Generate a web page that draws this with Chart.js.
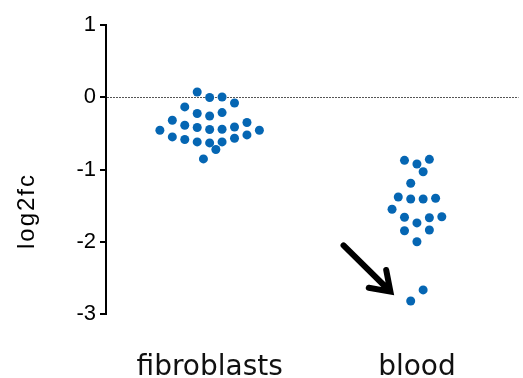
<!DOCTYPE html>
<html>
<head>
<meta charset="utf-8">
<script src="https://cdn.jsdelivr.net/npm/chart.js@4"></script>
<style>
  html, body { margin: 0; padding: 0; background: #ffffff; }
  #wrap { width: 523px; height: 378px; }
</style>
</head>
<body>
<div id="wrap"><canvas id="c" width="523" height="378"></canvas></div>
<script>
// ---- data ----
const categories = ['fibroblasts', 'blood'];
const yTicks = [1, 0, -1, -2, -3];
const yAxisTitle = 'log2fc';

// swarm offsets (x-scale units from the category centre) and log2fc values
const fibroblastsOffset = [-0.06, 0, 0.06, 0.12, -0.12, -0.06, 0, 0.06, -0.18, 0.18,
  -0.24, -0.12, -0.06, 0, 0.06, 0.12, 0.24, -0.18, -0.12, -0.06, 0, 0.06, 0.12, 0.18, 0.03, -0.03];
const fibroblastsLog2fc = [0.073, -0.004, 0.004, -0.079, -0.134, -0.225, -0.259, -0.212, -0.318, -0.350,
  -0.456, -0.387, -0.419, -0.447, -0.443, -0.411, -0.456, -0.549, -0.585, -0.618, -0.632, -0.618, -0.567, -0.521, -0.723, -0.853];

const bloodOffset = [-0.06, 0, 0.06, 0.03, -0.03, -0.09, -0.03, 0.03, 0.09, -0.12,
  -0.06, 0, 0.06, 0.12, -0.06, 0.06, 0, 0.03, -0.03];
const bloodLog2fc = [-0.873, -0.924, -0.859, -1.031, -1.191, -1.381, -1.408, -1.408, -1.398, -1.550,
  -1.661, -1.739, -1.668, -1.654, -1.848, -1.838, -2.000, -2.667, -2.820];

// annotation arrow (data coordinates)
const arrowFrom = { x: 1.646, y: -2.05 };
const arrowTo = { x: 1.872, y: -2.69 };

const dotColor = '#0566b3';

function toPoints(center, offs, vals) {
  return vals.map((v, i) => ({ x: center + offs[i], y: v }));
}

const zeroLinePlugin = {
  id: 'zeroLine',
  beforeDatasetsDraw(chart) {
    const { ctx, chartArea, scales } = chart;
    const y = Math.round(scales.y.getPixelForValue(0)) + 0.5;
    ctx.save();
    ctx.strokeStyle = '#555555';
    ctx.lineWidth = 1;
    ctx.setLineDash([2, 1]);
    ctx.beginPath();
    ctx.moveTo(chartArea.left + 1, y);
    ctx.lineTo(chartArea.right, y);
    ctx.stroke();
    ctx.restore();
  }
};

const arrowPlugin = {
  id: 'arrow',
  afterDatasetsDraw(chart) {
    const { ctx, scales } = chart;
    const x1 = scales.x.getPixelForValue(arrowFrom.x), y1 = scales.y.getPixelForValue(arrowFrom.y);
    const x2 = scales.x.getPixelForValue(arrowTo.x), y2 = scales.y.getPixelForValue(arrowTo.y);
    const ang = Math.atan2(y2 - y1, x2 - x1);
    const head = 22, spread = 0.6;
    ctx.save();
    ctx.strokeStyle = '#000';
    ctx.lineWidth = 6;
    ctx.lineCap = 'round';
    ctx.lineJoin = 'miter';
    ctx.beginPath();
    ctx.moveTo(x1, y1);
    ctx.lineTo(x2 - 3 * Math.cos(ang), y2 - 3 * Math.sin(ang));
    ctx.moveTo(x2 - head * Math.cos(ang - spread), y2 - head * Math.sin(ang - spread));
    ctx.lineTo(x2, y2);
    ctx.lineTo(x2 - head * Math.cos(ang + spread), y2 - head * Math.sin(ang + spread));
    ctx.stroke();
    ctx.restore();
  }
};

const yTitlePlugin = {
  id: 'yTitle',
  afterDraw(chart) {
    const { ctx } = chart;
    ctx.save();
    ctx.translate(34, 212);
    ctx.rotate(-Math.PI / 2);
    ctx.font = '24px "Liberation Sans", Arial, sans-serif';
    try { ctx.letterSpacing = '2px'; } catch (e) {}
    ctx.fillStyle = '#000';
    ctx.textAlign = 'center';
    ctx.textBaseline = 'alphabetic';
    ctx.fillText(yAxisTitle, 1, 0);
    ctx.restore();
  }
};

new Chart(document.getElementById('c'), {
  type: 'scatter',
  data: {
    datasets: [
      { label: categories[0], data: toPoints(1, fibroblastsOffset, fibroblastsLog2fc) },
      { label: categories[1], data: toPoints(2, bloodOffset, bloodLog2fc) }
    ].map(d => Object.assign(d, {
      backgroundColor: dotColor, borderColor: dotColor, borderWidth: 0,
      pointRadius: 4.5, pointHoverRadius: 4.5
    }))
  },
  options: {
    responsive: false,
    animation: false,
    devicePixelRatio: 1,
    layout: { padding: { top: 25, left: 0, right: 0, bottom: 0 } },
    plugins: { legend: { display: false }, tooltip: { enabled: false } },
    scales: {
      x: {
        type: 'linear',
        min: 0.5,
        max: 2.49,
        afterBuildTicks(scale) { scale.ticks = categories.map((c, i) => ({ value: i + 1 })); },
        afterFit(scale) { scale.height = 64; },
        grid: { display: false },
        border: { display: false },
        ticks: {
          autoSkip: false,
          maxRotation: 0,
          padding: 29,
          color: '#111',
          font: { family: '"DejaVu Sans", sans-serif', size: 28 },
          callback: (v) => categories[Math.round(v) - 1]
        }
      },
      y: {
        min: -3,
        max: 1,
        afterBuildTicks(scale) { scale.ticks = yTicks.map(v => ({ value: v })); },
        afterFit(scale) { scale.width = 106; },
        border: { display: true, color: '#000', width: 2 },
        grid: { drawOnChartArea: false, drawTicks: true, tickLength: 6, color: '#000', lineWidth: 2 },
        ticks: {
          padding: 4,
          color: '#000',
          font: { family: '"Liberation Sans", Arial, sans-serif', size: 22 },
          callback: (v) => String(v)
        }
      }
    }
  },
  plugins: [zeroLinePlugin, arrowPlugin, yTitlePlugin]
});
</script>
</body>
</html>
